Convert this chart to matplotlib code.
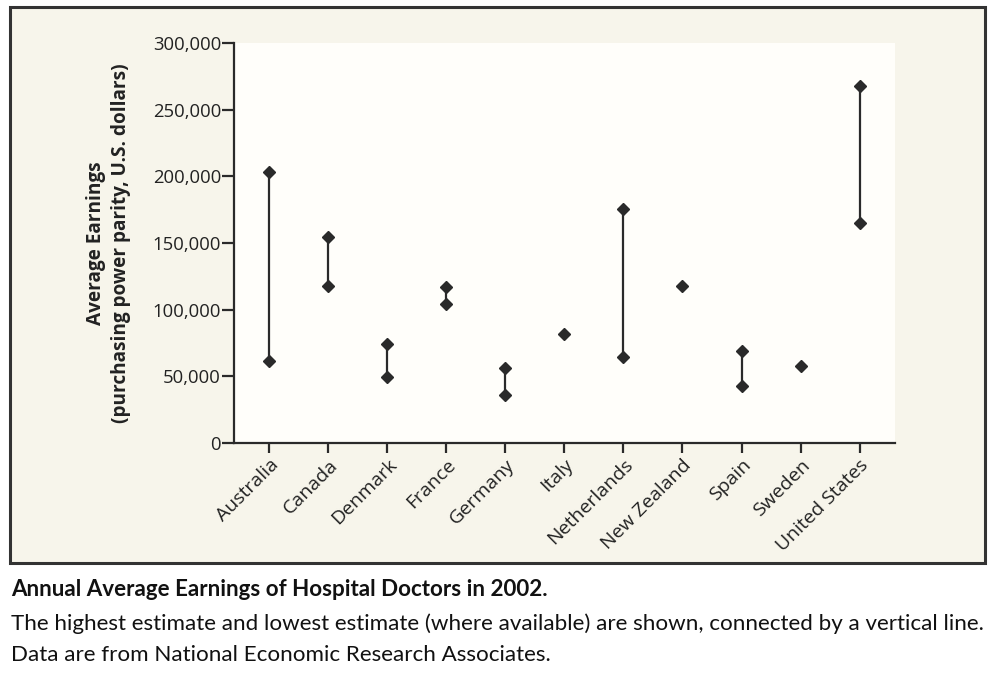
import numpy as np
import matplotlib
matplotlib.use("Agg")
import matplotlib.pyplot as plt
from matplotlib.patches import Rectangle
from matplotlib import font_manager as fm

countries = ["Australia", "Canada", "Denmark", "France", "Germany", "Italy",
             "Netherlands", "New Zealand", "Spain", "Sweden", "United States"]
high_est = [203000, 154500, 73900, 117000, 56100, 81600, 175300, 117900, 69100, 57600, 267900]
low_est = [61100, 117700, 49300, 104000, 35600, np.nan, 64600, np.nan, 42600, np.nan, 165300]
yticks = [0, 50000, 100000, 150000, 200000, 250000, 300000]
ytick_labels = ["0", "50,000", "100,000", "150,000", "200,000", "250,000", "300,000"]

title_txt = "Annual Average Earnings of Hospital Doctors in 2002."
cap1 = "The highest estimate and lowest estimate (where available) are shown, connected by a vertical line."
cap2 = "Data are from National Economic Research Associates."


def has_font(name):
    try:
        fm.findfont(fm.FontProperties(family=name), fallback_to_default=False)
        return True
    except Exception:
        return False


main_font = "Open Sans" if has_font("Open Sans") else "DejaVu Sans"
cap_font = "Liberation Sans Narrow" if has_font("Liberation Sans Narrow") else ("Lato" if has_font("Lato") else main_font)

plt.rcParams['font.family'] = [main_font, 'DejaVu Sans']

W, H = 993, 673
fig = plt.figure(figsize=(W / 100, H / 100), dpi=100)
fig.patch.set_facecolor("white")

ink = "#2a2a2a"
beige = "#F7F5EB"

frame = Rectangle((10 / W, 1 - 563 / H), (985 - 10) / W, (563 - 7) / H,
                  transform=fig.transFigure, facecolor=beige, edgecolor="#333333",
                  linewidth=2.2, zorder=-5)
fig.add_artist(frame)

ax = fig.add_axes([234.3 / W, 1 - 442.7 / H, (895 - 234.3) / W, (442.7 - 43.3) / H])
ax.set_facecolor("#FFFEFA")
ax.set_zorder(1)

x = np.arange(len(countries))
hi = np.array(high_est, dtype=float)
lo = np.array(low_est, dtype=float)
mask = ~np.isnan(lo)
ax.vlines(x[mask], lo[mask], hi[mask], color=ink, linewidth=1.6, zorder=2)
ax.plot(x, hi, linestyle="none", marker="D", markersize=5.8, color=ink, zorder=3)
ax.plot(x[mask], lo[mask], linestyle="none", marker="D", markersize=5.8, color=ink, zorder=3)

ax.set_xlim(-0.593, 10.6)
ax.set_ylim(0, 300000)
ax.set_yticks(yticks)
ax.set_yticklabels(ytick_labels)
ax.set_xticks(x)
ax.set_xticklabels(countries, rotation=45, ha="right", va="top", rotation_mode="anchor")

for s in ["top", "right"]:
    ax.spines[s].set_visible(False)
for s in ["left", "bottom"]:
    ax.spines[s].set_color(ink)
    ax.spines[s].set_linewidth(1.6)

ax.tick_params(axis="y", direction="out", length=8.5, width=1.6, color=ink,
               labelsize=13.3, labelcolor="#222222", pad=1)
ax.tick_params(axis="x", direction="out", length=7.5, width=1.6, color=ink,
               labelsize=14, labelcolor="#222222", pad=2)

fig.text(108.5 / W, 1 - 243 / H, "Average Earnings\n(purchasing power parity, U.S. dollars)",
         rotation=90, ha="center", va="center", multialignment="center",
         fontsize=13.7, fontweight="bold", color="#222222", linespacing=1.3)

renderer = fig.canvas.get_renderer()


def fit(t, target_w):
    w = t.get_window_extent(renderer).width
    t.set_fontsize(t.get_fontsize() * target_w / w)


t1 = fig.text(11 / W, 1 - 589 / H, title_txt, ha="left", va="center",
              fontsize=15, fontweight="bold", color="#111111", family=[cap_font, "DejaVu Sans"])
fit(t1, 548 - 11)
t2 = fig.text(11 / W, 1 - 624 / H, cap1, ha="left", va="center",
              fontsize=15, color="#111111", family=[cap_font, "DejaVu Sans"])
fit(t2, 985 - 11)
t3 = fig.text(11 / W, 1 - 655 / H, cap2, ha="left", va="center",
              fontsize=t2.get_fontsize(), color="#111111", family=[cap_font, "DejaVu Sans"])

fig.savefig("out.png", dpi=100, facecolor="white")
